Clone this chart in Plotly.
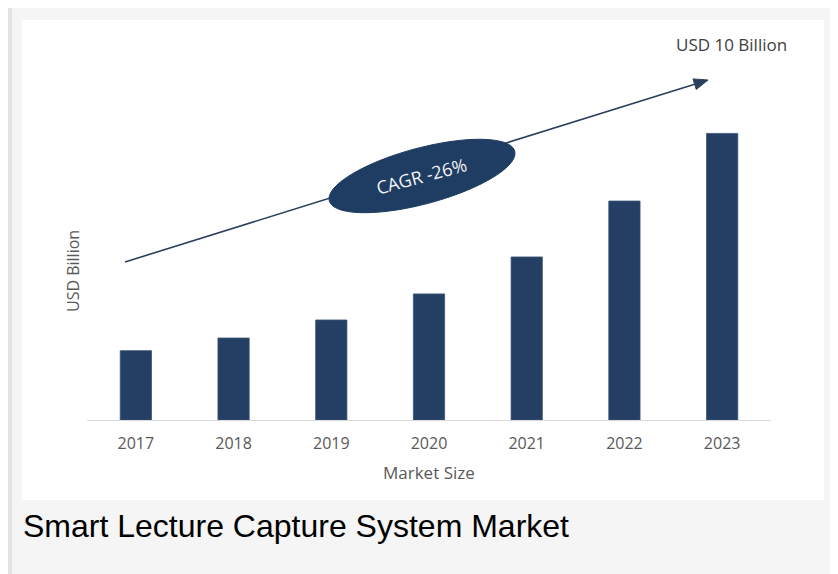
import math
import plotly.graph_objects as go

years = ["2017", "2018", "2019", "2020", "2021", "2022", "2023"]
market_size = [2.42, 2.86, 3.49, 4.40, 5.69, 7.64, 10.0]
y_title = "USD Billion"
x_title = "Market Size"
end_label = "USD 10 Billion"
cagr_label = "CAGR -26%"
chart_title = "Smart Lecture Capture System Market"

OFF = 8  # page body margin
W, H = 838 - OFF, 574 - OFF
# plot area in page pixels
PL, PR, PT, PB = 87, 771, 40, 420
L, R, T, B = PL - OFF, PR - OFF, PT - OFF, PB - OFF


def px(x):
    return (x - PL) / (PR - PL)


def py(y):
    return (PB - y) / (PB - PT)


BAR = "#243f63"
fig = go.Figure()
fig.add_trace(go.Bar(x=years, y=market_size, width=0.32,
                     marker=dict(color=BAR, line=dict(color="#3a5577", width=0.8)),
                     hoverinfo="skip"))

shapes = []
# frame
shapes.append(dict(type="rect", xref="paper", yref="paper", layer="below",
                   x0=px(8), x1=px(845), y0=py(4), y1=py(590),
                   fillcolor="#e3e3e3", line=dict(width=0)))
shapes.append(dict(type="rect", xref="paper", yref="paper", layer="below",
                   x0=px(12), x1=px(835), y0=py(7), y1=py(590),
                   fillcolor="#f5f5f5", line=dict(width=0)))
shapes.append(dict(type="rect", xref="paper", yref="paper", layer="below",
                   x0=px(22), x1=px(824), y0=py(20), y1=py(500),
                   fillcolor="#ffffff", line=dict(width=0)))

# trend arrow
x0, y0 = 125, 262
tx, ty = 708, 80
dx, dy = tx - x0, ty - y0
ln = math.hypot(dx, dy)
ux, uy = dx / ln, dy / ln
nx, ny = -uy, ux
hl, hw = 14, 5.5
bx, by = tx - hl * ux, ty - hl * uy
ARROW = "#2b3f5c"
shapes.append(dict(type="line", xref="paper", yref="paper",
                   x0=px(x0), y0=py(y0), x1=px(bx), y1=py(by),
                   line=dict(color=ARROW, width=1.6)))
tri = "M {} {} L {} {} L {} {} Z".format(
    px(tx), py(ty), px(bx + hw * nx), py(by + hw * ny), px(bx - hw * nx), py(by - hw * ny))
shapes.append(dict(type="path", xref="paper", yref="paper", path=tri,
                   fillcolor=ARROW, line=dict(color=ARROW, width=1)))

# ellipse
cx, cy = 422, 176
a, b = 96, 28
ang = math.radians(15)
pts = []
for i in range(73):
    t = 2 * math.pi * i / 72
    ex = a * math.cos(t)
    ey = b * math.sin(t)
    X = cx + ex * math.cos(ang) + ey * math.sin(ang)
    Y = cy - ex * math.sin(ang) + ey * math.cos(ang)
    pts.append((px(X), py(Y)))
path = "M " + " L ".join("{} {}".format(p[0], p[1]) for p in pts) + " Z"
shapes.append(dict(type="path", xref="paper", yref="paper", path=path,
                   fillcolor="#1f3d63", line=dict(color="#1f3d63", width=1)))


def label(text, x, y, size, color, family="Open Sans", angle=0, xanchor="center"):
    return dict(text=text, xref="paper", yref="paper", x=px(x), y=py(y),
                xanchor=xanchor, yanchor="middle", showarrow=False, textangle=angle,
                font=dict(family=family, size=size, color=color))


annotations = [
    label(cagr_label, 421, 176, 18, "#f2f2f2", angle=-15),
    label(end_label, 731, 44, 17, "#404040"),
    label(y_title, 73, 271, 16, "#595959", angle=-90),
    label(x_title, 429, 473, 17, "#595959"),
    label(chart_title, 21, 526, 32, "#000000", family="Liberation Sans", xanchor="left"),
]

fig.update_layout(
    width=W, height=H,
    margin=dict(l=L, r=W - R, t=T, b=H - B, pad=0),
    paper_bgcolor="#ffffff", plot_bgcolor="rgba(0,0,0,0)",
    showlegend=False, shapes=shapes, annotations=annotations,
    xaxis=dict(showline=True, linecolor="#d9d9d9", linewidth=1, ticks="",
               showgrid=False, zeroline=False, ticklabelstandoff=9,
               tickfont=dict(family="Open Sans", size=16, color="#595959")),
    yaxis=dict(range=[0, 13.26], showticklabels=False, showgrid=False,
               zeroline=False, showline=False),
)

fig.write_html("out.html")
